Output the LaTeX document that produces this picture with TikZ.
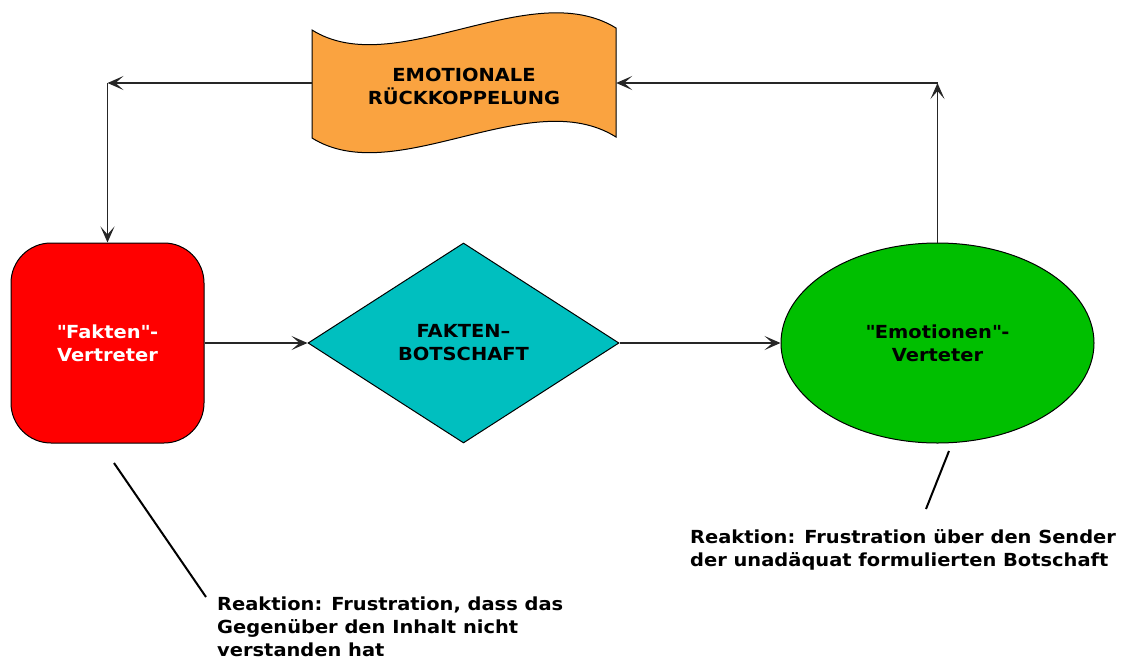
\documentclass[tikz,border=0pt]{standalone}
\usepackage{xcolor}
\usepackage{fontspec}
\setmainfont{DejaVu Sans}[FakeStretch=1.08]
\usepackage{tikz}
\usetikzlibrary{shapes.geometric}
\usetikzlibrary{arrows.meta}

\definecolor{bannerorange}{RGB}{250,163,64}
\definecolor{messageteal}{RGB}{0,191,191}
\definecolor{emotiongreen}{RGB}{0,191,0}

\begin{document}
\begin{tikzpicture}[x=1pt,y=-1pt]


    \tikzstyle{box text}=[font=\bfseries\fontsize{18}{23}\selectfont,align=center,inner sep=0pt]
    \tikzstyle{shape line}=[draw=black,line width=1pt]
    \tikzstyle{vector}=[-{Stealth[length=16pt,width=14pt,inset=8pt]},line width=1.5pt,color=black!85]
    \tikzstyle{pointer}=[line width=2pt,color=black]
    \tikzstyle{reaction text}=[font=\bfseries\fontsize{18}{23}\selectfont,align=left,anchor=north west,inner sep=0pt]
    \useasboundingbox (0,0) rectangle (1125,659);

    % Draw the feedback banner
    \filldraw[style=shape line,fill=bannerorange] (312,30) .. controls (395,82) and (530,-25) .. (616,28)
        -- (616,137) .. controls (530,83) and (395,190) .. (312,138) -- cycle;
    \node[style=box text,minimum width=304pt,minimum height=108pt] (feedback) at (464,86.5) {EMOTIONALE\\RÜCKKOPPELUNG};

    % Draw the three stages
    \node[style=box text,style=shape line,fill=red,text=white,rounded corners=40pt,
          minimum width=193pt,minimum height=200pt] (facts) at (107.5,343) {\textquotedbl Fakten\textquotedbl -\\Vertreter};
    \node[style=box text,style=shape line,diamond,fill=messageteal,
          minimum width=311pt,minimum height=200pt] (message) at (463.5,343) {FAKTEN–\\BOTSCHAFT};
    \node[style=box text,style=shape line,ellipse,fill=emotiongreen,
          minimum width=313pt,minimum height=200pt] (emotions) at (937.5,343) {\textquotedbl Emotionen\textquotedbl -\\Verteter};

    % Draw the loop
    \coordinate (top right) at (937.5,83);
    \coordinate (top left) at (107.5,83);
    \draw[style=vector] (facts) -- (message);
    \draw[style=vector] (message) -- (emotions);
    \draw[style=vector] (emotions.north) -- (top right);
    \draw[style=vector] (top right) -- (feedback.east |- top right);
    \draw[style=vector] (feedback.west |- top left) -- (top left);
    \draw[style=vector] (top left) -- (facts.north);

    % Draw the reactions
    \node[style=reaction text] (facts reaction) at (217,597) {Reaktion: Frustration, dass das\\Gegenüber den Inhalt nicht\\verstanden hat};
    \node[style=reaction text] (emotions reaction) at (690,529) {Reaktion: Frustration über den Sender\\der unadäquat formulierten Botschaft};
    \coordinate (facts start) at (114,463);
    \coordinate (facts end) at (206,597);
    \coordinate (emotions start) at (949,451);
    \coordinate (emotions end) at (926,509);
    \draw[style=pointer] (facts start) -- (facts end);
    \draw[style=pointer] (emotions start) -- (emotions end);

\end{tikzpicture}
\end{document}
